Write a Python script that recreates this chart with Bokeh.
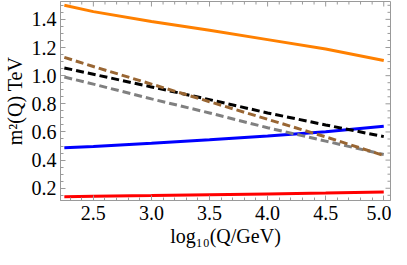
import math
from bokeh.plotting import figure
from bokeh.models import Range1d, FixedTicker
from bokeh.embed import file_html
from bokeh.resources import INLINE

# data (log10 Q/GeV)
x = [2.25, 2.5, 3.0, 3.5, 4.0, 4.5, 5.0]
orange = [1.50, 1.455, 1.385, 1.322, 1.256, 1.19, 1.108]
brown = [1.13, 1.065, 0.94, 0.815, 0.69, 0.565, 0.433]
black = [1.055, 1.01, 0.92, 0.83, 0.735, 0.65, 0.567]
gray = [0.99, 0.94, 0.835, 0.735, 0.63, 0.535, 0.44]
blue = [0.487, 0.497, 0.52, 0.545, 0.572, 0.602, 0.64]
red = [0.14, 0.143, 0.148, 0.154, 0.16, 0.166, 0.173]

xticks = [2.5, 3.0, 3.5, 4.0, 4.5, 5.0]
yticks = [0.2, 0.4, 0.6, 0.8, 1.0, 1.2, 1.4]
xminor = [round(2.3 + 0.1 * i, 2) for i in range(28)]
yminor = [round(0.15 + 0.05 * i, 3) for i in range(28)]

X0, X1 = 2.217, 5.058
Y0, Y1 = 0.113, 1.527

FONT = "Liberation Serif"
FRAME = "#9a9a9a"
FS = "20px"

p = figure(width=391, height=249, output_backend="svg", toolbar_location=None,
           x_range=Range1d(X0, X1), y_range=Range1d(Y0, Y1),
           min_border_left=20, min_border_right=1, min_border_top=1, min_border_bottom=20,
           x_axis_label="log\u2081\u2080(Q/GeV)", y_axis_label="m\u00b2(Q) TeV")
p.grid.visible = False
p.outline_line_color = FRAME
p.outline_line_width = 1

lw = 3
p.line(x, orange, line_color="#FF8000", line_width=lw)
p.line(x, blue, line_color="#0000FF", line_width=lw)
p.line(x, red, line_color="#FF0000", line_width=lw)
p.line(x, gray, line_color="#808080", line_width=lw, line_dash="8 4")
p.line(x, black, line_color="#000000", line_width=lw, line_dash="8 4")
p.line(x, brown, line_color="#996633", line_width=lw, line_dash="8 4")

# frame ticks on top and right edges (inward)
xmin_in = [t for t in xminor if all(abs(t - m) > 1e-6 for m in xticks)]
ymin_in = [t for t in yminor if all(abs(t - m) > 1e-6 for m in yticks)]
p.ray(x=xticks, y=[Y1] * len(xticks), length=5, length_units="screen",
      angle=-math.pi / 2, line_color=FRAME, line_width=1)
p.ray(x=xmin_in, y=[Y1] * len(xmin_in), length=3, length_units="screen",
      angle=-math.pi / 2, line_color=FRAME, line_width=1)
p.ray(x=[X1] * len(yticks), y=yticks, length=5, length_units="screen",
      angle=math.pi, line_color=FRAME, line_width=1)
p.ray(x=[X1] * len(ymin_in), y=ymin_in, length=3, length_units="screen",
      angle=math.pi, line_color=FRAME, line_width=1)

def style(ax):
    ax.axis_line_color = FRAME
    ax.major_tick_line_color = FRAME
    ax.minor_tick_line_color = FRAME
    ax.major_tick_in = 5
    ax.major_tick_out = 0
    ax.minor_tick_in = 3
    ax.minor_tick_out = 0
    ax.major_label_text_font = FONT
    ax.major_label_text_font_size = FS
    ax.major_label_text_color = "black"
    ax.axis_label_text_font = FONT
    ax.axis_label_text_font_size = FS
    ax.axis_label_text_font_style = "normal"
    ax.axis_label_text_color = "black"

xa = p.xaxis[0]
ya = p.yaxis[0]
style(xa)
style(ya)
xa.ticker = FixedTicker(ticks=xticks, minor_ticks=xminor)
ya.ticker = FixedTicker(ticks=yticks, minor_ticks=yminor)
xa.major_label_overrides = {t: f"{t:.1f}" for t in xticks}
ya.major_label_overrides = {t: f"{t:.1f}" for t in yticks}
xa.major_label_standoff = 5
ya.major_label_standoff = 4
xa.axis_label_standoff = 2
ya.axis_label_standoff = 3

open("out.html", "w").write(file_html(p, INLINE))
